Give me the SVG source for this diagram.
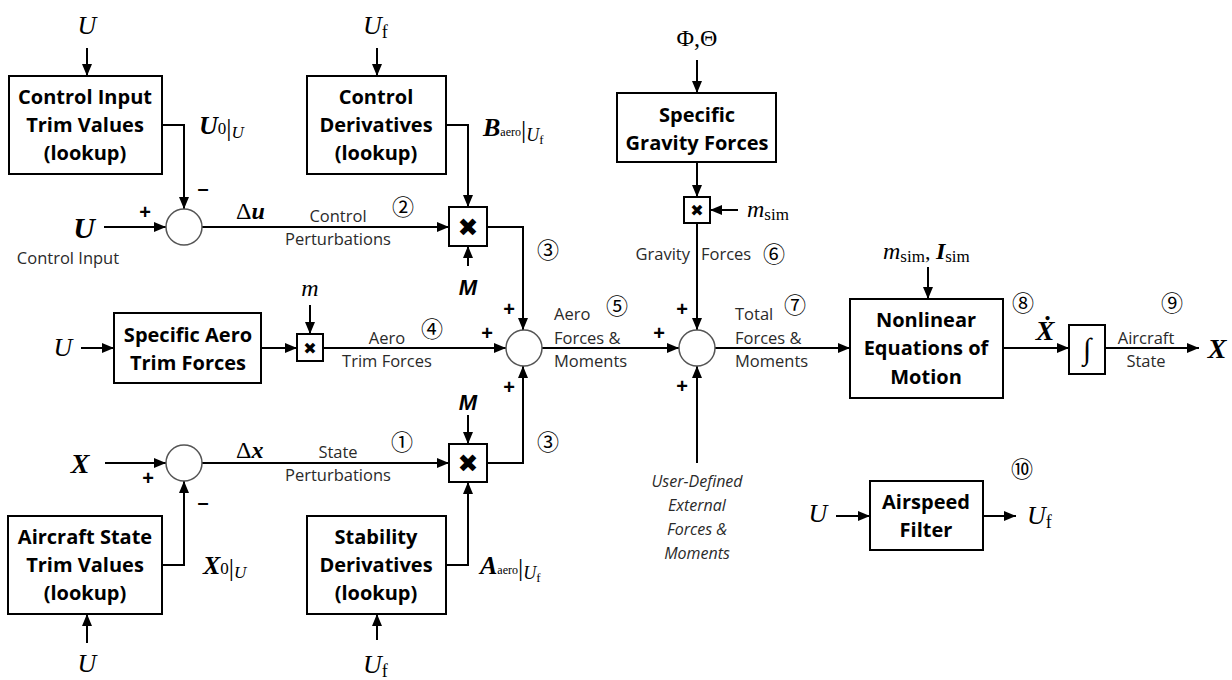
<svg xmlns="http://www.w3.org/2000/svg" width="1232" height="680" viewBox="0 0 1232 680">
<style>
.bx{fill:#fff;stroke:#000;stroke-width:2}
.bt{font-family:"Open Sans","Liberation Sans",sans-serif;font-weight:bold;font-size:20px;fill:#000;text-anchor:middle}
.lb{font-family:"Open Sans","Liberation Sans",sans-serif;font-size:16.5px;fill:#2a2a2a}
.lbi{font-family:"Open Sans","Liberation Sans",sans-serif;font-size:16px;font-style:italic;fill:#2a2a2a;text-anchor:middle}
.mi{font-family:"Liberation Serif",serif;font-style:italic;fill:#000}
.mbi{font-family:"Liberation Serif",serif;font-style:italic;font-weight:bold;fill:#000}
.mr{font-family:"Liberation Serif",serif;font-style:normal;font-weight:normal;fill:#000}
.ms{font-family:"Liberation Sans",sans-serif;font-style:italic;font-weight:bold;fill:#000;font-size:22px;text-anchor:middle}
.cn{font-family:"Noto Sans CJK SC","DejaVu Sans",sans-serif;font-size:22px;fill:#000;text-anchor:middle}
.sg{font-family:"Liberation Sans",sans-serif;font-weight:bold;font-size:20px;fill:#000;text-anchor:middle}
.mx{font-family:"DejaVu Sans",sans-serif;fill:#000;text-anchor:middle}
.sum{fill:#fff;stroke:#555;stroke-width:1.5}
.c{fill:none;stroke:#000;stroke-width:2}
.a{marker-end:url(#ar)}
</style>
<defs>
<marker id="ar" markerUnits="userSpaceOnUse" markerWidth="12" markerHeight="10" refX="12" refY="5" orient="auto">
<path d="M0,0 L12,5 L0,10 z" fill="#000"/>
</marker>
</defs>

<g id="connectors">
<path class="c a" d="M87,48 V76"/>
<path class="c a" d="M162,125 H184 V209"/>
<path class="c a" d="M104,227 H166"/>
<path class="c a" d="M202,227 H449"/>
<path class="c a" d="M377,48 V76"/>
<path class="c a" d="M446,125 H468 V207"/>
<path class="c a" d="M468,266 V246"/>
<path class="c a" d="M487,227 H523 V330"/>
<path class="c a" d="M81,348 H114"/>
<path class="c a" d="M261,348 H297"/>
<path class="c a" d="M310,305 V334"/>
<path class="c a" d="M323,348 H506"/>
<path class="c a" d="M105,463 H166"/>
<path class="c a" d="M202,463 H449"/>
<path class="c a" d="M162,565 H184 V481"/>
<path class="c a" d="M87,643 V614"/>
<path class="c a" d="M468,415 V444"/>
<path class="c a" d="M446,565 H468 V482"/>
<path class="c a" d="M377,640 V614"/>
<path class="c a" d="M487,463 H523 V366"/>
<path class="c a" d="M542,348 H679"/>
<path class="c a" d="M697,60 V93"/>
<path class="c a" d="M697,162 V197"/>
<path class="c a" d="M738,210 H710"/>
<path class="c a" d="M697,223 V330"/>
<path class="c a" d="M697,463 V366"/>
<path class="c a" d="M715,348 H850"/>
<path class="c a" d="M928,267 V299"/>
<path class="c a" d="M1003,348 H1069"/>
<path class="c a" d="M1105,348 H1199"/>
<path class="c a" d="M836,516 H870"/>
<path class="c a" d="M983,516 H1016"/>
</g>

<g id="control-input-trim">
<rect class="bx" x="9" y="76" width="153" height="98"/>
<text class="bt" x="85" y="104">Control Input</text>
<text class="bt" x="85" y="132">Trim Values</text>
<text class="bt" x="85" y="160">(lookup)</text>
</g>
<g id="control-derivatives">
<rect class="bx" x="307" y="76" width="139" height="98"/>
<text class="bt" x="376" y="104">Control</text>
<text class="bt" x="376" y="132">Derivatives</text>
<text class="bt" x="376" y="160">(lookup)</text>
</g>
<g id="specific-gravity">
<rect class="bx" x="617" y="93" width="159" height="69"/>
<text class="bt" x="697" y="122">Specific</text>
<text class="bt" x="697" y="150">Gravity Forces</text>
</g>
<g id="specific-aero-trim">
<rect class="bx" x="114" y="313" width="147" height="70"/>
<text class="bt" x="188" y="342">Specific Aero</text>
<text class="bt" x="188" y="370">Trim Forces</text>
</g>
<g id="nonlinear-eom">
<rect class="bx" x="850" y="299" width="153" height="99"/>
<text class="bt" x="926" y="327">Nonlinear</text>
<text class="bt" x="926" y="355">Equations of</text>
<text class="bt" x="926" y="384">Motion</text>
</g>
<g id="aircraft-state-trim">
<rect class="bx" x="8" y="516" width="154" height="98"/>
<text class="bt" x="85" y="544">Aircraft State</text>
<text class="bt" x="85" y="572">Trim Values</text>
<text class="bt" x="85" y="600">(lookup)</text>
</g>
<g id="stability-derivatives">
<rect class="bx" x="307" y="516" width="139" height="98"/>
<text class="bt" x="376" y="544">Stability</text>
<text class="bt" x="376" y="572">Derivatives</text>
<text class="bt" x="376" y="600">(lookup)</text>
</g>
<g id="airspeed-filter">
<rect class="bx" x="870" y="481" width="113" height="69"/>
<text class="bt" x="926" y="509">Airspeed</text>
<text class="bt" x="926" y="537">Filter</text>
</g>
<g id="integrator">
<rect class="bx" x="1069" y="325" width="36" height="49"/>
<text class="mr" x="1087" y="359" font-size="30" text-anchor="middle">∫</text>
</g>

<g id="mult-control">
<rect class="bx" x="449" y="207" width="38" height="39"/>
<text class="mx" x="468" y="236" font-size="25">✖</text>
</g>
<g id="mult-state">
<rect class="bx" x="449" y="444" width="38" height="38"/>
<text class="mx" x="468" y="472" font-size="25">✖</text>
</g>
<g id="mult-mass">
<rect class="bx" x="297" y="334" width="26" height="27"/>
<text class="mx" x="310" y="354" font-size="16">✖</text>
</g>
<g id="mult-gravity">
<rect class="bx" x="684" y="197" width="26" height="26"/>
<text class="mx" x="697" y="216" font-size="16">✖</text>
</g>

<g id="sum-control">
<circle class="sum" cx="184" cy="227" r="18"/>
<text class="sg" x="145" y="219">+</text>
<text class="sg" x="203" y="195" font-size="24">–</text>
</g>
<g id="sum-state">
<circle class="sum" cx="184" cy="463" r="18"/>
<text class="sg" x="148" y="485">+</text>
<text class="sg" x="203" y="509" font-size="24">–</text>
</g>
<g id="sum-aero">
<circle class="sum" cx="524" cy="348" r="18"/>
<text class="sg" x="487" y="340">+</text>
<text class="sg" x="509" y="316">+</text>
<text class="sg" x="509" y="394">+</text>
</g>
<g id="sum-total">
<circle class="sum" cx="697" cy="348" r="18"/>
<text class="sg" x="659" y="340">+</text>
<text class="sg" x="682" y="316">+</text>
<text class="sg" x="682" y="393">+</text>
</g>

<g id="labels">
<text class="mi" x="87" y="34" font-size="26" text-anchor="middle">U</text>
<text x="199" y="134"><tspan class="mbi" font-size="26">U</tspan><tspan class="mr" font-size="17">0</tspan><tspan class="mr" font-size="26" dy="2">|</tspan><tspan class="mi" font-size="17" dy="2">U</tspan></text>
<text class="mbi" x="84" y="238" font-size="30" text-anchor="middle">U</text>
<text class="lb" x="68" y="264" text-anchor="middle" font-size="18.5">Control Input</text>
<text x="236" y="219" font-size="24"><tspan class="mr">Δ</tspan><tspan class="mbi">u</tspan></text>
<text class="mi" x="363" y="34" font-size="26">U<tspan class="mr" font-size="18" dy="4">f</tspan></text>
<text x="483" y="136"><tspan class="mbi" font-size="26">B</tspan><tspan class="mr" font-size="12">aero</tspan><tspan class="mr" font-size="26" dy="2">|</tspan><tspan class="mi" font-size="18" dy="3">U</tspan><tspan class="mr" font-size="13" dy="3">f</tspan></text>
<text class="lb" x="338" y="222" text-anchor="middle">Control</text>
<text class="lb" x="338" y="245" text-anchor="middle">Perturbations</text>
<text class="cn" x="403" y="215">②</text>
<text class="cn" x="548" y="258">③</text>
<text class="ms" x="468" y="295">M</text>
<text class="mr" x="697" y="46" font-size="24" text-anchor="middle">Φ,Θ</text>
<text x="747" y="217"><tspan class="mi" font-size="24">m</tspan><tspan class="mr" font-size="17" dy="3">sim</tspan></text>
<text class="lb" x="690" y="260" text-anchor="end">Gravity</text>
<text class="lb" x="701" y="260">Forces</text>
<text class="cn" x="774" y="262">⑥</text>
<text x="883" y="259"><tspan class="mi" font-size="24">m</tspan><tspan class="mr" font-size="17" dy="3">sim</tspan><tspan class="mr" font-size="22" dy="-3">, </tspan><tspan class="mbi" font-size="24">I</tspan><tspan class="mr" font-size="17" dy="3">sim</tspan></text>
<text class="mi" x="63" y="356" font-size="26" text-anchor="middle">U</text>
<text class="mi" x="310" y="296" font-size="24" text-anchor="middle">m</text>
<text class="lb" x="387" y="344" text-anchor="middle">Aero</text>
<text class="lb" x="387" y="367" text-anchor="middle">Trim Forces</text>
<text class="cn" x="432" y="337">④</text>
<text class="lb" x="554" y="320">Aero</text>
<text class="lb" x="554" y="344">Forces &amp;</text>
<text class="lb" x="554" y="367">Moments</text>
<text class="cn" x="617" y="314">⑤</text>
<text class="lb" x="735" y="320">Total</text>
<text class="lb" x="735" y="344">Forces &amp;</text>
<text class="lb" x="735" y="367">Moments</text>
<text class="cn" x="795" y="313">⑦</text>
<text class="cn" x="1023" y="311">⑧</text>
<text class="mbi" x="1045" y="340" font-size="28" text-anchor="middle">Ẋ</text>
<text class="lb" x="1146" y="344" text-anchor="middle">Aircraft</text>
<text class="lb" x="1146" y="367" text-anchor="middle">State</text>
<text class="cn" x="1172" y="311">⑨</text>
<text class="mbi" x="1217" y="358" font-size="28" text-anchor="middle">X</text>
<text class="ms" x="468" y="410">M</text>
<text class="cn" x="402" y="450">①</text>
<text class="cn" x="548" y="450">③</text>
<text class="mbi" x="80" y="473" font-size="28" text-anchor="middle">X</text>
<text x="236" y="458" font-size="24"><tspan class="mr">Δ</tspan><tspan class="mbi">x</tspan></text>
<text class="lb" x="338" y="458" text-anchor="middle">State</text>
<text class="lb" x="338" y="481" text-anchor="middle">Perturbations</text>
<text x="203" y="574"><tspan class="mbi" font-size="26">X</tspan><tspan class="mr" font-size="17">0</tspan><tspan class="mr" font-size="26" dy="2">|</tspan><tspan class="mi" font-size="17" dy="2">U</tspan></text>
<text x="480" y="574"><tspan class="mbi" font-size="26">A</tspan><tspan class="mr" font-size="12">aero</tspan><tspan class="mr" font-size="26" dy="2">|</tspan><tspan class="mi" font-size="18" dy="3">U</tspan><tspan class="mr" font-size="13" dy="3">f</tspan></text>
<text class="mi" x="87" y="672" font-size="26" text-anchor="middle">U</text>
<text class="mi" x="363" y="673" font-size="26">U<tspan class="mr" font-size="18" dy="4">f</tspan></text>
<text class="lbi" x="697" y="487">User-Defined</text>
<text class="lbi" x="697" y="511">External</text>
<text class="lbi" x="697" y="535">Forces &amp;</text>
<text class="lbi" x="697" y="559">Moments</text>
<text class="mi" x="818" y="522" font-size="26" text-anchor="middle">U</text>
<text class="mi" x="1027" y="524" font-size="26">U<tspan class="mr" font-size="18" dy="4">f</tspan></text>
<text class="cn" x="1022" y="477">⑩</text>
</g>
</svg>
